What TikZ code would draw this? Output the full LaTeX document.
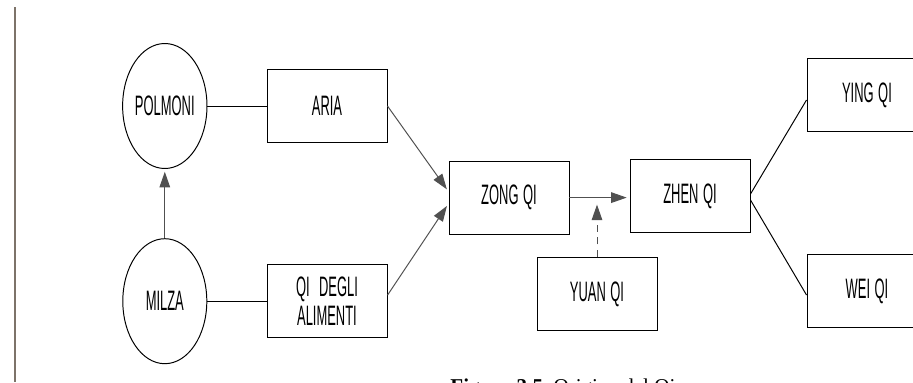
\documentclass[tikz,border=0pt]{standalone}
\usepackage{fontspec}
\usepackage{tikz}
\usetikzlibrary{positioning, arrows.meta, shapes.geometric}
\setmainfont{Liberation Serif}
\newfontfamily\narrowsans[FakeStretch=0.46]{Liberation Sans}
\newcommand{\boxfont}{\narrowsans\fontsize{20}{22}\selectfont\spaceskip=3.2pt\relax}
\definecolor{tipgray}{RGB}{80,80,80}
\definecolor{edgegray}{RGB}{125,115,105}

\begin{document}
\begin{tikzpicture}[state/.style={ellipse, draw, minimum width=2.1cm, minimum height=3.125cm, inner sep=0pt, font=\boxfont},
                    box/.style={rectangle, draw, minimum width=3cm, minimum height=1.825cm, align=center, font=\boxfont},
                    flow/.style={-{Triangle[length=11pt, width=7.5pt]}, shorten >=2pt},
                    every path/.style={line width=0.7pt}]
				      \useasboundingbox (0,0) rectangle (22.825,-9.55);
				      \draw[edgegray, line width=1.4pt] (0.375,-0.175) -- (0.375,-9.55);

				      \node[state, xshift=4.12cm, yshift=-2.65cm] (polmoni) {POLMONI};
				      \node[state, xshift=4.12cm, yshift=-7.53cm] (milza) {MILZA};
				      \node[box, xshift=8.175cm, yshift=-2.65cm] (aria) {ARIA};
				      \node[box, xshift=8.175cm, yshift=-7.53cm, text width=2.6cm, inner sep=0pt] (alimenti) {QI DEGLI\\[-1pt]ALIMENTI};
				      \node[box, xshift=12.725cm, yshift=-4.94cm] (zong) {ZONG QI};
				      \node[box, xshift=17.25cm, yshift=-4.9cm] (zhen) {ZHEN QI};
				      \node[box, xshift=14.925cm, yshift=-7.35cm] (yuan) {YUAN QI};
				      \node[box, xshift=21.675cm, yshift=-2.375cm] (ying) {YING QI};
				      \node[box, xshift=21.675cm, yshift=-7.275cm] (wei) {WEI QI};

				      \node[anchor=north west, inner sep=0pt, font=\fontsize{15}{17}\selectfont] (caption) at (11.25,-9.45) {\textbf{Figura 3.5}\enspace Origine del Qi};

				      \draw (polmoni) -- (aria);
				      \draw (milza) -- (alimenti);
				      \draw[flow, tipgray] (milza) -- (polmoni);
				      \draw[flow, tipgray] (aria.east) -- ([yshift=0.15cm]zong.west);
				      \draw[flow, tipgray] ([yshift=0.15cm]alimenti.east) -- ([yshift=-0.15cm]zong.west);
				      \draw[flow, tipgray] (zong.east) -- (zong.east -| zhen.west);
				      \draw[flow, tipgray, dashed, dash pattern=on 5pt off 4pt, shorten >=5pt] (yuan.north) -- (yuan.north |- zong.east);
				      \draw ([yshift=0.05cm]zhen.east) -- ([yshift=-0.125cm]ying.west);
				      \draw ([yshift=-0.1cm]zhen.east) -- ([yshift=-0.1cm]wei.west);
			      \end{tikzpicture}
\end{document}
